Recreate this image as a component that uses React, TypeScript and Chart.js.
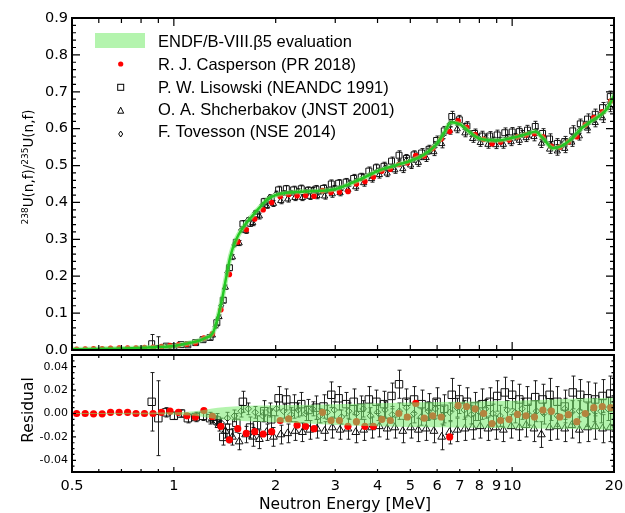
import React, { useEffect, useRef } from "react";
import { Chart, registerables } from "chart.js";

Chart.register(...registerables);

// ---------- axis / tick values ----------
const X_MIN = 0.5;
const X_MAX = 20;
const X_TICK_LABELS = [0.5, 1, 2, 3, 4, 5, 6, 7, 8, 9, 10, 20];
const X_MAJOR = [1, 10];
const X_MINOR = [0.6, 0.7, 0.8, 0.9, 2, 3, 4, 5, 6, 7, 8, 9];
const TOP_Y_TICKS = [0, 0.1, 0.2, 0.3, 0.4, 0.5, 0.6, 0.7, 0.8, 0.9];
const BOT_Y_TICKS = [-0.04, -0.02, 0, 0.02, 0.04];

const LEGEND_LABELS = [
  "ENDF/B-VIII.\u03b25 evaluation",
  "R. J. Casperson (PR 2018)",
  "P. W. Lisowski (NEANDC 1991)",
  "O. A. Shcherbakov (JNST 2001)",
  "F. Tovesson (NSE 2014)",
];

// ---------- ENDF/B-VIII.b5 evaluation ----------
const EVAL_E = [0.5, 0.6, 0.7, 0.8, 0.9, 1.0, 1.1, 1.2, 1.25, 1.28, 1.31, 1.35, 1.39, 1.43, 1.47, 1.52, 1.6, 1.7, 1.8, 1.9, 2.0, 2.2, 2.5, 2.8, 3.0, 3.3, 3.7, 4.0, 4.5, 5.0, 5.5, 6.0, 6.3, 6.6, 7.0, 7.5, 8.0, 9.0, 10, 11, 11.7, 12.3, 13.2, 14, 15, 16, 17, 18, 19, 20];
const EVAL_V = [0.002, 0.003, 0.004, 0.006, 0.008, 0.011, 0.018, 0.027, 0.034, 0.038, 0.05, 0.09, 0.14, 0.2, 0.255, 0.295, 0.332, 0.362, 0.388, 0.41, 0.42, 0.427, 0.43, 0.432, 0.436, 0.45, 0.47, 0.485, 0.5, 0.513, 0.53, 0.56, 0.59, 0.617, 0.612, 0.59, 0.573, 0.568, 0.575, 0.585, 0.592, 0.575, 0.547, 0.553, 0.573, 0.6, 0.618, 0.633, 0.652, 0.69];

// residual uncertainty band of the evaluation
const BAND_E = [0.5, 0.8, 1.0, 1.15, 1.25, 1.35, 1.5, 1.8, 2.2, 3.0, 4.0, 6.0, 10, 14, 20];
const BAND_HI = [0.0004, 0.0006, 0.001, 0.002, 0.0035, 0.005, 0.006, 0.0068, 0.0072, 0.008, 0.0088, 0.0098, 0.011, 0.0125, 0.0135];
const BAND_LO = [-0.0004, -0.0006, -0.001, -0.002, -0.0035, -0.005, -0.006, -0.007, -0.008, -0.0098, -0.0108, -0.0118, -0.0125, -0.013, -0.014];

// ---------- Casperson (PR 2018) ----------
const CASP_E = [0.516, 0.547, 0.579, 0.614, 0.65, 0.689, 0.73, 0.773, 0.819, 0.868, 0.919, 0.974, 1.032, 1.093, 1.158, 1.227, 1.3, 1.377, 1.459, 1.545, 1.637, 1.734, 1.837, 1.946, 2.062, 2.184, 2.314, 2.451, 2.597, 2.751, 2.914, 3.087, 3.271, 3.465, 3.671, 3.889, 4.12, 4.364, 4.624, 4.898, 5.189, 5.497, 5.824, 6.17, 6.536, 6.924, 7.336, 7.771, 8.233, 8.722, 9.24, 9.789, 10.37, 10.99, 11.64, 12.33, 13.06, 13.84, 14.66, 15.53, 16.45, 17.43, 18.47, 19.56];
const CASP_RATIO = [0.002, 0.0025, 0.003, 0.003, 0.0045, 0.005, 0.0055, 0.0055, 0.0065, 0.0075, 0.0095, 0.012, 0.014, 0.0155, 0.019, 0.0325, 0.044, 0.109, 0.205, 0.293, 0.326, 0.355, 0.38, 0.4, 0.416, 0.4215, 0.418, 0.419, 0.417, 0.432, 0.427, 0.428, 0.43, 0.45, 0.457, 0.469, 0.485, 0.49, 0.503, 0.507, 0.527, 0.526, 0.546, 0.572, 0.592, 0.621, 0.604, 0.584, 0.571, 0.559, 0.564, 0.569, 0.578, 0.583, 0.587, 0.578, 0.552, 0.55, 0.564, 0.578, 0.61, 0.63, 0.646, 0.675];
const CASP_RESID = [0, 0, -0.0003, -0.0003, 0.001, 0.001, 0.001, 0, 0, 0, 0.001, 0.002, 0.001, -0.002, -0.003, 0.0025, -0.0025, -0.011, -0.0225, -0.013, -0.017, -0.0155, -0.0175, -0.0155, -0.006, -0.0045, -0.01, -0.011, -0.013, 0.001, -0.006, -0.006, -0.011, -0.007, -0.011, -0.011, -0.005, -0.006, 0, -0.003, 0.0086, -0.004, -0.002, -0.003, -0.02, 0.0067, 0.006, 0.004, 0, -0.0086, -0.006, -0.005, -0.0008, -0.002, -0.003, 0.003, 0.002, -0.003, -0.001, -0.007, 0, 0.005, 0.006, 0.005];

// ---------- Lisowski (NEANDC 1991) ----------
const LIS_E = [0.86, 0.9, 0.95, 1.0, 1.05, 1.1, 1.16, 1.22, 1.28, 1.34, 1.4, 1.46, 1.53, 1.6, 1.68, 1.76, 1.85, 1.94, 2.04, 2.15, 2.26, 2.38, 2.5, 2.63, 2.77, 2.92, 3.07, 3.23, 3.4, 3.58, 3.77, 3.97, 4.18, 4.4, 4.63, 4.87, 5.13, 5.4, 5.68, 5.98, 6.3, 6.63, 6.98, 7.35, 7.74, 8.15, 8.58, 9.03, 9.51, 10.0, 10.5, 11.1, 11.7, 12.3, 12.9, 13.6, 14.3, 15.1, 15.9, 16.7, 17.6, 18.5, 19.5];
const LIS_RATIO = [0.017, 0.004, 0.0105, 0.009, 0.0145, 0.014, 0.02, 0.028, 0.034, 0.074, 0.135, 0.223, 0.292, 0.342, 0.344, 0.368, 0.402, 0.409, 0.434, 0.437, 0.434, 0.437, 0.433, 0.436, 0.438, 0.45, 0.452, 0.455, 0.465, 0.469, 0.485, 0.494, 0.498, 0.512, 0.528, 0.519, 0.529, 0.534, 0.544, 0.568, 0.594, 0.633, 0.624, 0.607, 0.587, 0.58, 0.58, 0.583, 0.589, 0.591, 0.592, 0.596, 0.606, 0.587, 0.572, 0.56, 0.565, 0.594, 0.613, 0.626, 0.639, 0.657, 0.687];
const LIS_RESID = [0.01, -0.004, 0.001, -0.002, 0, -0.004, -0.003, -0.002, -0.004, -0.006, -0.02, -0.017, -0.008, 0.01, -0.012, -0.01, 0.002, -0.005, 0.013, 0.012, 0.006, 0.008, 0.003, 0.005, 0.006, 0.016, 0.013, 0.008, 0.01, 0.005, 0.012, 0.01, 0.008, 0.015, 0.025, 0.01, 0.012, 0.008, 0.006, 0.01, 0.004, 0.016, 0.012, 0.01, 0.006, 0.008, 0.01, 0.015, 0.018, 0.016, 0.012, 0.01, 0.014, 0.012, 0.016, 0.01, 0.006, 0.018, 0.016, 0.013, 0.012, 0.015, 0.017];
const LIS_ERR = [0.025, 0.032, 0.004, 0.003, 0.003, 0.004, 0.004, 0.004, 0.005, 0.006, 0.007, 0.008, 0.008, 0.009, 0.009, 0.008, 0.009, 0.009, 0.01, 0.009, 0.01, 0.01, 0.009, 0.01, 0.01, 0.011, 0.01, 0.01, 0.011, 0.01, 0.011, 0.01, 0.011, 0.011, 0.012, 0.011, 0.011, 0.012, 0.011, 0.012, 0.012, 0.014, 0.012, 0.012, 0.012, 0.013, 0.012, 0.013, 0.013, 0.012, 0.013, 0.013, 0.014, 0.013, 0.014, 0.013, 0.014, 0.014, 0.013, 0.014, 0.014, 0.014, 0.015];

// ---------- Shcherbakov (JNST 2001) ----------
const SHC_E = [1.3, 1.36, 1.42, 1.49, 1.56, 1.63, 1.71, 1.79, 1.88, 1.97, 2.07, 2.17, 2.28, 2.4, 2.52, 2.65, 2.79, 2.94, 3.1, 3.27, 3.45, 3.64, 3.84, 4.05, 4.27, 4.5, 4.75, 5.01, 5.28, 5.57, 5.87, 6.19, 6.53, 6.88, 7.25, 7.64, 8.05, 8.48, 8.94, 9.42, 9.93, 10.5, 11.0, 11.6, 12.2, 12.9, 13.6, 14.3, 15.0, 15.8, 16.7, 17.6, 18.5, 19.5];
const SHC_RATIO = [0.04, 0.09, 0.17, 0.252, 0.29, 0.323, 0.345, 0.363, 0.391, 0.397, 0.4045, 0.409, 0.413, 0.413, 0.416, 0.418, 0.417, 0.423, 0.426, 0.435, 0.442, 0.453, 0.464, 0.475, 0.479, 0.488, 0.491, 0.501, 0.508, 0.521, 0.537, 0.559, 0.595, 0.599, 0.588, 0.573, 0.562, 0.557, 0.556, 0.557, 0.564, 0.568, 0.575, 0.578, 0.56, 0.544, 0.539, 0.546, 0.563, 0.58, 0.601, 0.616, 0.629, 0.658];
const SHC_RESID = [-0.004, -0.01, -0.015, -0.02, -0.024, -0.018, -0.02, -0.022, -0.016, -0.02, -0.018, -0.017, -0.015, -0.016, -0.014, -0.013, -0.015, -0.012, -0.014, -0.013, -0.016, -0.014, -0.012, -0.011, -0.013, -0.012, -0.015, -0.012, -0.014, -0.013, -0.015, -0.02, -0.016, -0.014, -0.013, -0.012, -0.011, -0.013, -0.012, -0.014, -0.011, -0.012, -0.01, -0.013, -0.018, -0.012, -0.011, -0.013, -0.01, -0.014, -0.012, -0.011, -0.013, -0.012];
const SHC_ERR = [0.004, 0.005, 0.006, 0.007, 0.007, 0.007, 0.008, 0.008, 0.007, 0.008, 0.008, 0.008, 0.008, 0.008, 0.008, 0.008, 0.008, 0.009, 0.008, 0.009, 0.009, 0.009, 0.009, 0.009, 0.009, 0.009, 0.01, 0.009, 0.01, 0.01, 0.01, 0.011, 0.01, 0.01, 0.01, 0.01, 0.01, 0.01, 0.01, 0.01, 0.01, 0.011, 0.01, 0.011, 0.011, 0.011, 0.011, 0.011, 0.011, 0.011, 0.012, 0.011, 0.012, 0.012];

// ---------- Tovesson (NSE 2014) ----------
const TOV_E = [1.33, 1.38, 1.44, 1.51, 1.58, 1.66, 1.74, 1.83, 1.92, 2.01, 2.11, 2.22, 2.33, 2.45, 2.57, 2.7, 2.84, 2.98, 3.13, 3.29, 3.46, 3.63, 3.81, 4.0, 4.21, 4.42, 4.64, 4.87, 5.12, 5.38, 5.65, 5.93, 6.23, 6.54, 6.87, 7.21, 7.57, 7.95, 8.35, 8.77, 9.21, 9.67, 10.2, 10.7, 11.2, 11.8, 12.4, 13.0, 13.6, 14.3, 15.0, 15.8, 16.6, 17.4, 18.3, 19.2];
const TOV_RATIO = [0.064, 0.12, 0.21, 0.285, 0.325, 0.354, 0.373, 0.394, 0.415, 0.4245, 0.426, 0.426, 0.431, 0.4295, 0.4345, 0.429, 0.4335, 0.439, 0.438, 0.4515, 0.458, 0.47, 0.473, 0.486, 0.494, 0.496, 0.506, 0.515, 0.517, 0.523, 0.539, 0.557, 0.581, 0.613, 0.619, 0.606, 0.587, 0.577, 0.575, 0.569, 0.5675, 0.576, 0.578, 0.586, 0.586, 0.591, 0.572, 0.556, 0.548, 0.563, 0.574, 0.596, 0.61, 0.627, 0.64, 0.662];
const TOV_RESID = [-0.006, -0.008, -0.004, -0.002, 0.002, 0.004, 0.001, -0.002, 0.003, 0.004, 0.002, -0.001, 0.003, 0, 0.004, -0.002, 0.001, 0.003, -0.003, 0.002, 0, 0.004, -0.002, 0.001, 0.003, -0.001, 0.002, 0.005, 0, -0.003, 0.002, 0.004, -0.002, 0.001, 0.005, 0.003, -0.001, 0.002, 0.004, 0, -0.002, 0.003, 0.001, 0.004, -0.001, 0.002, 0, 0.003, -0.002, 0.004, 0.001, 0.002, -0.001, 0.003, 0.002, 0.004];
const TOV_ERR = [0.004, 0.004, 0.005, 0.005, 0.005, 0.005, 0.005, 0.005, 0.006, 0.006, 0.006, 0.006, 0.006, 0.006, 0.006, 0.006, 0.006, 0.007, 0.006, 0.007, 0.007, 0.007, 0.007, 0.007, 0.007, 0.007, 0.007, 0.007, 0.008, 0.007, 0.008, 0.008, 0.008, 0.008, 0.008, 0.008, 0.008, 0.008, 0.008, 0.008, 0.009, 0.008, 0.009, 0.009, 0.009, 0.009, 0.009, 0.009, 0.009, 0.009, 0.01, 0.009, 0.01, 0.01, 0.01, 0.01];

// ---------- styles ----------
const BAND_RGBA = "rgba(122,236,110,0.56)";
const LINE_GREEN = "rgb(35,200,35)";
const RED = "rgb(255,0,0)";
const FONT_AX = "'DejaVu Sans', 'Liberation Sans', sans-serif";
const FONT_LEG = "'Liberation Sans', Arial, sans-serif";

const pts = (xs: number[], ys: number[]) => xs.map((x, i) => ({ x, y: ys[i] }));

const errorBarPlugin = {
  id: "errorBars",
  beforeDatasetsDraw(chart: any) {
    const { ctx, chartArea: a } = chart;
    const ys = chart.scales.y;
    ctx.save();
    ctx.beginPath();
    ctx.rect(a.left, a.top, a.right - a.left, a.bottom - a.top);
    ctx.clip();
    ctx.strokeStyle = "rgba(20,20,20,0.95)";
    ctx.lineWidth = 1;
    chart.data.datasets.forEach((ds: any, i: number) => {
      if (!ds.errors) return;
      const meta = chart.getDatasetMeta(i);
      meta.data.forEach((el: any, j: number) => {
        const d = ds.data[j];
        const e = ds.errors[j];
        const x = Math.round(el.x) + 0.5;
        const y1 = ys.getPixelForValue(d.y + e);
        const y2 = ys.getPixelForValue(d.y - e);
        ctx.beginPath();
        ctx.moveTo(x, y1);
        ctx.lineTo(x, y2);
        ctx.moveTo(x - 2, y1);
        ctx.lineTo(x + 2, y1);
        ctx.moveTo(x - 2, y2);
        ctx.lineTo(x + 2, y2);
        ctx.stroke();
      });
    });
    ctx.restore();
  },
};

function makeFramePlugin(o: any) {
  return {
    id: "frame",
    afterDatasetsDraw(chart: any) {
      const { ctx, chartArea: a } = chart;
      const xs = chart.scales.x;
      const ys = chart.scales.y;
      ctx.save();
      ctx.strokeStyle = "#000";
      ctx.lineWidth = 1.2;
      ctx.beginPath();
      const n = Math.round((o.yMax - o.yMin) / o.yMinorStep);
      for (let k = 0; k <= n; k++) {
        const v = o.yMin + k * o.yMinorStep;
        const major = o.yMajor.some((m: number) => Math.abs(m - v) < 1e-9);
        const len = major ? o.yMajorLen : o.yMinorLen;
        const py = ys.getPixelForValue(v);
        ctx.moveTo(a.left, py);
        ctx.lineTo(a.left + len, py);
        ctx.moveTo(a.right, py);
        ctx.lineTo(a.right - len, py);
      }
      const xt = (vals: number[], len: number) => {
        vals.forEach((v) => {
          const px = xs.getPixelForValue(v);
          ctx.moveTo(px, a.top);
          ctx.lineTo(px, a.top + len);
          ctx.moveTo(px, a.bottom);
          ctx.lineTo(px, a.bottom - len);
        });
      };
      xt(X_MAJOR, o.xMajorLen);
      xt(X_MINOR, o.xMinorLen);
      ctx.stroke();
      ctx.lineWidth = 2;
      ctx.strokeRect(a.left, a.top, a.right - a.left, a.bottom - a.top);
      ctx.restore();
    },
  };
}

const topDecorPlugin = {
  id: "topDecor",
  afterDraw(chart: any) {
    const ctx = chart.ctx;
    ctx.save();
    // y-axis title with superscripts
    ctx.translate(28, 167);
    ctx.rotate(-Math.PI / 2);
    const parts: [string, boolean][] = [
      ["238", true],
      ["U(n,f)/", false],
      ["235", true],
      ["U(n,f)", false],
    ];
    const big = `13.5px ${FONT_AX}`;
    const small = `9px ${FONT_AX}`;
    let total = 0;
    parts.forEach(([t, s]) => {
      ctx.font = s ? small : big;
      total += ctx.measureText(t).width;
    });
    let x = -total / 2;
    ctx.fillStyle = "#000";
    ctx.textBaseline = "alphabetic";
    ctx.textAlign = "left";
    parts.forEach(([t, s]) => {
      ctx.font = s ? small : big;
      ctx.fillText(t, x, s ? -0.5 : 5.2);
      x += ctx.measureText(t).width;
    });
    ctx.restore();

    // legend
    ctx.save();
    ctx.fillStyle = BAND_RGBA;
    ctx.fillRect(95, 33, 50, 15);
    ctx.fillStyle = "#000";
    ctx.font = `16.5px ${FONT_LEG}`;
    ctx.textAlign = "left";
    ctx.textBaseline = "alphabetic";
    const base = [46.7, 70, 92.7, 114.8, 137.3];
    LEGEND_LABELS.forEach((t, i) => ctx.fillText(t, 158, base[i]));
    const mx = 120.7;
    ctx.fillStyle = RED;
    ctx.beginPath();
    ctx.arc(mx, 64, 2.6, 0, Math.PI * 2);
    ctx.fill();
    ctx.strokeStyle = "#000";
    ctx.lineWidth = 1;
    ctx.strokeRect(mx - 3, 87.3 - 3, 6, 6);
    ctx.beginPath();
    ctx.moveTo(mx, 110.7 - 3.5);
    ctx.lineTo(mx + 3, 110.7 + 2.5);
    ctx.lineTo(mx - 3, 110.7 + 2.5);
    ctx.closePath();
    ctx.stroke();
    ctx.beginPath();
    ctx.moveTo(mx, 134 - 3);
    ctx.lineTo(mx + 2, 134);
    ctx.lineTo(mx, 134 + 3);
    ctx.lineTo(mx - 2, 134);
    ctx.closePath();
    ctx.stroke();
    ctx.restore();
  },
};

const botDecorPlugin = {
  id: "botDecor",
  afterDraw(chart: any) {
    const ctx = chart.ctx;
    ctx.save();
    ctx.fillStyle = "#000";
    ctx.font = `15.5px ${FONT_AX}`;
    ctx.textAlign = "center";
    ctx.textBaseline = "alphabetic";
    ctx.fillText("Neutron Energy [MeV]", 345, 168.5);
    ctx.translate(27.5, 70);
    ctx.rotate(-Math.PI / 2);
    ctx.fillText("Residual", 0, 5.7);
    ctx.restore();
  },
};

const markerSets = (top: boolean) => {
  const k = top ? 1 : 1.25;
  return [
    {
      label: LEGEND_LABELS[1],
      data: pts(CASP_E, top ? CASP_RATIO : CASP_RESID),
      showLine: false,
      pointStyle: "circle",
      pointRadius: top ? 2.8 : 3.6,
      pointBackgroundColor: RED,
      pointBorderColor: RED,
      pointBorderWidth: 0,
    },
    {
      label: LEGEND_LABELS[2],
      data: pts(LIS_E, top ? LIS_RATIO : LIS_RESID),
      errors: LIS_ERR,
      showLine: false,
      pointStyle: "rect",
      pointRadius: 4.2 * k,
      pointBackgroundColor: "rgba(0,0,0,0)",
      pointBorderColor: "#111",
      pointBorderWidth: 1,
    },
    {
      label: LEGEND_LABELS[3],
      data: pts(SHC_E, top ? SHC_RATIO : SHC_RESID),
      errors: SHC_ERR,
      showLine: false,
      pointStyle: "triangle",
      pointRadius: 3.6 * k,
      pointBackgroundColor: "rgba(0,0,0,0)",
      pointBorderColor: "#111",
      pointBorderWidth: 1,
    },
    {
      label: LEGEND_LABELS[4],
      data: pts(TOV_E, top ? TOV_RATIO : TOV_RESID),
      errors: TOV_ERR,
      showLine: false,
      pointStyle: "rectRot",
      pointRadius: 2.6 * k,
      pointBackgroundColor: "rgba(0,0,0,0)",
      pointBorderColor: "#111",
      pointBorderWidth: 1,
    },
  ];
};

const xScaleBase = {
  type: "logarithmic",
  min: X_MIN,
  max: X_MAX,
};

export default function App() {
  const topRef = useRef<HTMLCanvasElement | null>(null);
  const botRef = useRef<HTMLCanvasElement | null>(null);

  useEffect(() => {
    const evalPts = pts(EVAL_E, EVAL_V);
    const top = new Chart(topRef.current as HTMLCanvasElement, {
      type: "line",
      data: {
        datasets: [
          {
            label: "eval",
            data: evalPts,
            borderColor: LINE_GREEN,
            borderWidth: 2.4,
            pointRadius: 0,
            cubicInterpolationMode: "monotone",
            fill: false,
            clip: 0,
          },
          {
            label: "evalBand",
            data: evalPts,
            borderColor: BAND_RGBA,
            borderWidth: 5,
            borderCapStyle: "round",
            borderJoinStyle: "round",
            pointRadius: 0,
            cubicInterpolationMode: "monotone",
            fill: false,
            clip: 0,
          },
          ...markerSets(true),
        ] as any,
      },
      options: {
        responsive: false,
        animation: false,
        events: [],
        layout: { padding: { left: 0, right: 11, top: 18, bottom: 22 } },
        plugins: { legend: { display: false }, tooltip: { enabled: false } },
        scales: {
          x: { ...xScaleBase, display: false } as any,
          y: {
            type: "linear",
            min: 0,
            max: 0.9,
            afterBuildTicks: (s: any) => {
              s.ticks = TOP_Y_TICKS.map((v) => ({ value: v }));
            },
            afterFit: (s: any) => {
              s.width = 72;
              s.paddingTop = 0;
              s.paddingBottom = 0;
            },
            grid: { display: false, drawTicks: false },
            border: { display: false },
            ticks: {
              padding: 4,
              color: "#000",
              font: { family: FONT_AX, size: 14.5 },
              callback: (v: any) => Number(v).toFixed(1),
            },
          },
        },
      } as any,
      plugins: [
        errorBarPlugin,
        makeFramePlugin({ yMajor: TOP_Y_TICKS, yMin: 0, yMax: 0.9, yMinorStep: 0.02, yMajorLen: 8, yMinorLen: 4, xMajorLen: 8, xMinorLen: 5 }),
        topDecorPlugin,
      ],
    });

    const bot = new Chart(botRef.current as HTMLCanvasElement, {
      type: "line",
      data: {
        datasets: [
          {
            label: "bandHi",
            data: pts(BAND_E, BAND_HI),
            borderWidth: 0,
            borderColor: "rgba(0,0,0,0)",
            backgroundColor: BAND_RGBA,
            pointRadius: 0,
            fill: "+1",
            cubicInterpolationMode: "monotone",
            clip: 0,
          },
          {
            label: "bandLo",
            data: pts(BAND_E, BAND_LO),
            borderWidth: 0,
            borderColor: "rgba(0,0,0,0)",
            pointRadius: 0,
            fill: false,
            cubicInterpolationMode: "monotone",
            clip: 0,
          },
          ...markerSets(false),
        ] as any,
      },
      options: {
        responsive: false,
        animation: false,
        events: [],
        layout: { padding: { left: 0, right: 11, top: 15, bottom: 0 } },
        plugins: { legend: { display: false }, tooltip: { enabled: false } },
        scales: {
          x: {
            ...xScaleBase,
            afterBuildTicks: (s: any) => {
              s.ticks = X_TICK_LABELS.map((v) => ({ value: v }));
            },
            afterFit: (s: any) => {
              s.height = 41;
              s.paddingLeft = 0;
              s.paddingRight = 0;
            },
            grid: { display: false, drawTicks: false },
            border: { display: false },
            ticks: {
              autoSkip: false,
              maxRotation: 0,
              minRotation: 0,
              padding: 6,
              color: "#000",
              font: { family: FONT_AX, size: 14.5 },
              callback: (v: any) => String(v),
            },
          } as any,
          y: {
            type: "linear",
            min: -0.05,
            max: 0.05,
            afterBuildTicks: (s: any) => {
              s.ticks = BOT_Y_TICKS.map((v) => ({ value: v }));
            },
            afterFit: (s: any) => {
              s.width = 72;
              s.paddingTop = 0;
              s.paddingBottom = 0;
            },
            grid: { display: false, drawTicks: false },
            border: { display: false },
            ticks: {
              padding: 4,
              color: "#000",
              font: { family: FONT_AX, size: 11 },
              callback: (v: any) => Number(v).toFixed(2),
            },
          },
        },
      } as any,
      plugins: [
        errorBarPlugin,
        makeFramePlugin({ yMajor: BOT_Y_TICKS, yMin: -0.05, yMax: 0.05, yMinorStep: 0.005, yMajorLen: 4, yMinorLen: 2.5, xMajorLen: 5, xMinorLen: 3 }),
        botDecorPlugin,
      ],
    });

    return () => {
      top.destroy();
      bot.destroy();
    };
  }, []);

  return (
    <div style={{ position: "fixed", left: 0, top: 0, width: 625, height: 513, background: "#fff", overflow: "hidden" }}>
      <canvas ref={topRef} width={625} height={372} style={{ position: "absolute", left: 0, top: 0, display: "block" }} />
      <canvas ref={botRef} width={625} height={173} style={{ position: "absolute", left: 0, top: 340, display: "block" }} />
    </div>
  );
}
